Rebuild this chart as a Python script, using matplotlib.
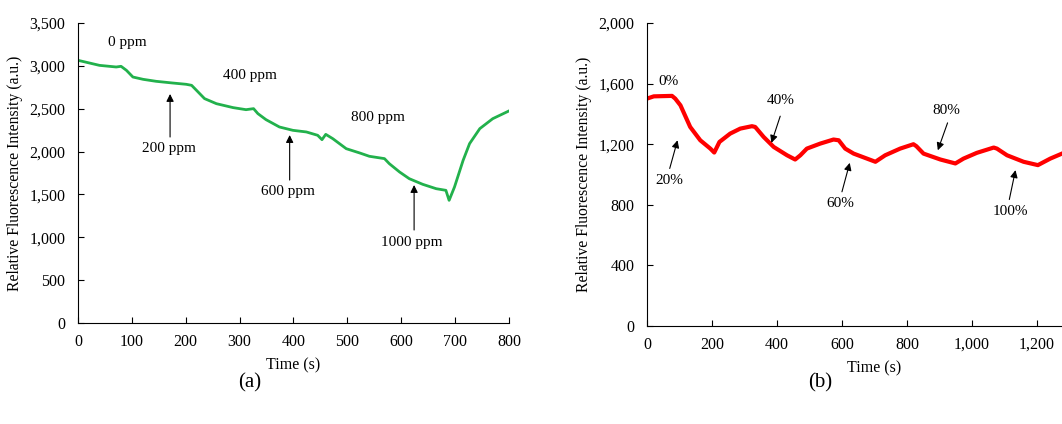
import matplotlib.pyplot as plt
from matplotlib.ticker import FuncFormatter, MultipleLocator

plt.rcParams['font.family'] = ['Liberation Serif', 'DejaVu Serif']

# (a) gas concentration steps, green trace
time_a = [0, 40, 71, 80, 90, 102, 121, 145, 176, 201, 211, 220, 235, 257, 288,
          312, 326, 334, 349, 374, 399, 424, 445, 453, 460, 473, 498, 523, 541,
          569, 578, 597, 615, 640, 665, 683, 689, 699, 715, 727, 746, 770, 800]
signal_a = [3065, 3006, 2987, 2995, 2948, 2870, 2843, 2820, 2800, 2785, 2773,
            2715, 2618, 2559, 2513, 2489, 2501, 2443, 2373, 2287, 2248, 2229,
            2190, 2139, 2201, 2151, 2034, 1984, 1945, 1918, 1859, 1762, 1684,
            1618, 1567, 1548, 1431, 1587, 1898, 2093, 2268, 2384, 2474]

labels_a_plain = ['0 ppm', '400 ppm', '800 ppm']
pos_a_plain = [(91, 3267), (319, 2893), (557, 2392)]
labels_a_arrow = ['200 ppm', '600 ppm', '1000 ppm']
tips_a = [(171, 2672), (393, 2193), (624, 1610)]
tails_a = [(171, 2170), (393, 1668), (624, 1085)]
text_a = [(169, 2040), (390, 1540), (620, 945)]

# (b) humidity steps, red trace
time_b = [0, 21, 77, 87, 103, 133, 164, 195, 207, 223, 256, 287, 323, 333, 359,
          390, 431, 456, 472, 492, 533, 574, 590, 610, 636, 677, 703, 733, 779,
          820, 829, 851, 903, 949, 974, 1015, 1067, 1077, 1108, 1159, 1203, 1241,
          1277, 1300]
signal_b = [1501, 1516, 1519, 1501, 1457, 1314, 1226, 1171, 1145, 1215, 1270,
            1303, 1319, 1314, 1248, 1182, 1127, 1099, 1127, 1171, 1204, 1231,
            1226, 1171, 1138, 1105, 1084, 1127, 1171, 1200, 1187, 1138, 1099,
            1073, 1105, 1143, 1178, 1171, 1127, 1084, 1062, 1105, 1138, 1160]

labels_b = ['20%', '40%', '60%', '80%', '100%']
tips_b = [(94, 1226), (383, 1209), (624, 1077), (895, 1160), (1134, 1029)]
tails_b = [(70, 1040), (410, 1385), (600, 886), (925, 1341), (1115, 835)]
text_b = [(70, 963), (412, 1486), (595, 809), (920, 1420), (1118, 754)]

comma = FuncFormatter(lambda v, p: f'{v:,.0f}')
arrow = dict(arrowstyle='-|>', color='black', lw=0.8, mutation_scale=11,
             shrinkA=0, shrinkB=0)

fig = plt.figure(figsize=(10.62, 4.24), dpi=100)
ax1 = fig.add_axes([0.0734, 0.2382, 0.4058, 0.7075])
ax2 = fig.add_axes([0.6092, 0.2311, 0.4284, 0.7146])

ax1.plot(time_a, signal_a, color='#22b14c', lw=2)
ax1.set_xlim(0, 800)
ax1.set_ylim(0, 3500)
ax1.xaxis.set_major_locator(MultipleLocator(100))
ax1.yaxis.set_major_locator(MultipleLocator(500))
for lab, (x, y) in zip(labels_a_plain, pos_a_plain):
    ax1.text(x, y, lab, ha='center', va='center', fontsize=11)
for lab, tip, tail, tx in zip(labels_a_arrow, tips_a, tails_a, text_a):
    ax1.annotate('', xy=tip, xytext=tail, arrowprops=arrow)
    ax1.text(tx[0], tx[1], lab, ha='center', va='center', fontsize=11)

ax2.plot(time_b, signal_b, color='#ff0000', lw=3)
ax2.set_xlim(0, 1400)
ax2.set_ylim(0, 2000)
ax2.set_xticks(range(0, 1201, 200))
ax2.yaxis.set_major_locator(MultipleLocator(400))
ax2.text(67, 1611, '0%', ha='center', va='center', fontsize=11)
for lab, tip, tail, tx in zip(labels_b, tips_b, tails_b, text_b):
    ax2.annotate('', xy=tip, xytext=tail, arrowprops=arrow)
    ax2.text(tx[0], tx[1], lab, ha='center', va='center', fontsize=11)

for ax in (ax1, ax2):
    ax.spines['top'].set_visible(False)
    ax.spines['right'].set_visible(False)
    ax.xaxis.set_major_formatter(comma)
    ax.yaxis.set_major_formatter(comma)
    ax.tick_params(direction='in', length=4, width=0.8, labelsize=11.5)
    ax.tick_params(axis='y', pad=9)
    ax.tick_params(axis='x', pad=8)
    ax.set_xlabel('Time (s)', fontsize=11.5, labelpad=5)
    ax.set_ylabel('Relative Fluorescence Intensity (a.u.)', fontsize=11.3,
                  labelpad=5)

fig.text(250 / 1062, 1 - 383 / 424, '(a)', ha='center', va='center', fontsize=15)
fig.text(820 / 1062, 1 - 383 / 424, '(b)', ha='center', va='center', fontsize=15)

fig.savefig('out.png', dpi=100)
